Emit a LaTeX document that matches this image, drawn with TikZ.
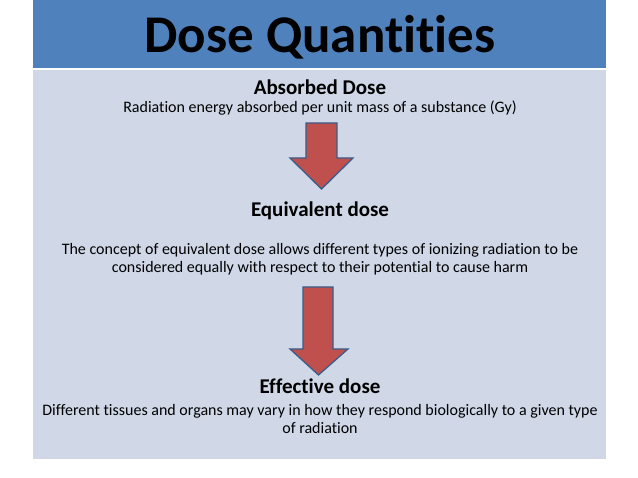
\documentclass[tikz,border=0pt]{standalone}
\usepackage{fontspec}
\setmainfont[Ligatures=NoCommon]{Carlito}
\definecolor{titleblue}{HTML}{4F81BD}
\definecolor{bodygrey}{HTML}{D0D8E8}
\definecolor{arrowred}{HTML}{C0504D}
\definecolor{arrowedge}{HTML}{385D8A}
\tikzset{
  headtxt/.style={anchor=base, inner sep=0pt, font=\fontsize{21}{25}\selectfont\bfseries},
  bodytxt/.style={anchor=base, inner sep=0pt, font=\fontsize{16}{19}\selectfont},
  blockarrow/.style={fill=arrowred, draw=arrowedge, line width=1.3pt, line join=miter}
}
\begin{document}
\begin{tikzpicture}[x=1pt,y=-1pt]
\useasboundingbox (0,0) rectangle (638,478);
\fill[titleblue] (33,0) rectangle (606,68);
\fill[bodygrey] (33,70) rectangle (606,459);
\node[anchor=base, inner sep=0pt, font=\fontsize{53}{60}\selectfont\bfseries] (title) at (320,53) {Dose Quantities};
\node[headtxt] (absorbed) at (320,94.5) {Absorbed Dose};
\node[bodytxt] (absdesc) at (320,112.5) {Radiation energy absorbed per unit mass of a substance (Gy)};
\node[headtxt] (equiv) at (320,216.5) {Equivalent dose};
\node[bodytxt] (equivdescA) at (320,255) {The concept of equivalent dose allows different types of ionizing radiation to be};
\node[bodytxt] (equivdescB) at (320,273) {considered equally with respect to their potential to cause harm};
\node[headtxt] (effective) at (320,393.5) {Effective dose};
\node[bodytxt] (effdescA) at (320,416) {Different tissues and organs may vary in how they respond biologically to a given type};
\node[bodytxt] (effdescB) at (320,433.5) {of radiation};
\draw[blockarrow] (306,123) -- (337,123) -- (337,158) -- (353,158) -- (321.5,189) -- (290,158) -- (306,158) -- cycle;
\draw[blockarrow] (303,287) -- (333,287) -- (333,349) -- (348,349) -- (318.5,375) -- (290,349) -- (303,349) -- cycle;
\end{tikzpicture}
\end{document}
